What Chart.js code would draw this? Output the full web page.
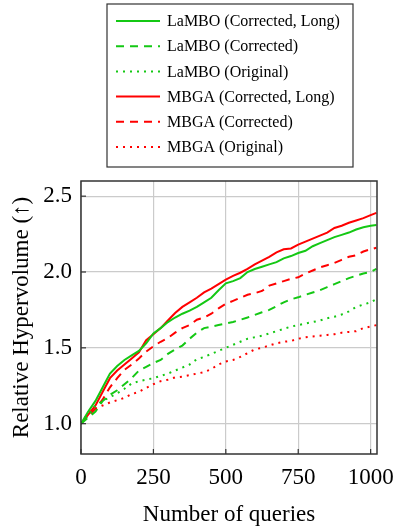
<!DOCTYPE html>
<html>
<head>
<meta charset="utf-8">
<script src="https://cdn.jsdelivr.net/npm/chart.js@4.4.1/dist/chart.umd.min.js"></script>
<style>
  html, body { margin: 0; padding: 0; background: #fff; }
  #wrap { width: 396px; height: 531px; }
</style>
</head>
<body>
<div id="wrap"><canvas id="hvChart" width="396" height="531"></canvas></div>
<script>
// Number of queries (x positions of the samples)
var queries = [0, 25, 50, 75, 100, 125, 150, 175, 200, 225, 250, 275, 300, 325, 350, 375, 400, 425, 450, 475, 500,
    525, 550, 575, 600, 625, 650, 675, 700, 725, 750, 775, 800, 825, 850, 875, 900, 925, 950, 975, 1000, 1020];

// Relative hypervolume, one array per run
var lamboLong = [1.00, 1.08, 1.15, 1.24, 1.33, 1.38, 1.42, 1.45, 1.48, 1.53, 1.595, 1.63, 1.67, 1.70, 1.725, 1.745, 1.77, 1.80, 1.83, 1.88, 1.925,
    1.94, 1.96, 2.00, 2.02, 2.035, 2.05, 2.065, 2.09, 2.105, 2.125, 2.14, 2.17, 2.19, 2.21, 2.23, 2.245, 2.26, 2.28, 2.295, 2.305, 2.31];
var lamboCorrected = [1.00, 1.04, 1.08, 1.15, 1.19, 1.22, 1.26, 1.30, 1.35, 1.375, 1.40, 1.42, 1.46, 1.49, 1.515, 1.56, 1.60, 1.63, 1.64, 1.65, 1.66,
    1.67, 1.685, 1.70, 1.717, 1.735, 1.75, 1.775, 1.80, 1.82, 1.833, 1.85, 1.865, 1.88, 1.90, 1.92, 1.94, 1.96, 1.975, 1.99, 2.00, 2.02];
var lamboOriginal = [1.00, 1.05, 1.12, 1.15, 1.175, 1.20, 1.23, 1.265, 1.28, 1.29, 1.30, 1.315, 1.33, 1.35, 1.37, 1.39, 1.425, 1.44, 1.46, 1.48, 1.50,
    1.52, 1.54, 1.56, 1.57, 1.58, 1.595, 1.61, 1.625, 1.64, 1.65, 1.66, 1.67, 1.68, 1.695, 1.705, 1.72, 1.74, 1.77, 1.785, 1.80, 1.82];
var mbgaLong = [1.00, 1.06, 1.12, 1.21, 1.30, 1.35, 1.39, 1.43, 1.47, 1.55, 1.59, 1.63, 1.68, 1.73, 1.77, 1.80, 1.83, 1.865, 1.89, 1.92, 1.95,
    1.975, 1.995, 2.02, 2.05, 2.075, 2.10, 2.13, 2.15, 2.155, 2.18, 2.20, 2.22, 2.24, 2.26, 2.29, 2.305, 2.325, 2.34, 2.355, 2.375, 2.39];
var mbgaCorrected = [1.00, 1.05, 1.10, 1.16, 1.24, 1.30, 1.355, 1.39, 1.43, 1.475, 1.51, 1.54, 1.565, 1.60, 1.63, 1.65, 1.685, 1.70, 1.725, 1.76, 1.79,
    1.81, 1.83, 1.85, 1.86, 1.875, 1.91, 1.925, 1.94, 1.955, 1.965, 1.99, 2.01, 2.03, 2.045, 2.06, 2.08, 2.10, 2.11, 2.135, 2.15, 2.16];
var mbgaOriginal = [1.00, 1.07, 1.10, 1.12, 1.14, 1.155, 1.17, 1.195, 1.21, 1.235, 1.26, 1.28, 1.29, 1.305, 1.31, 1.32, 1.33, 1.34, 1.36, 1.39, 1.41,
    1.42, 1.44, 1.465, 1.49, 1.50, 1.515, 1.53, 1.54, 1.545, 1.56, 1.57, 1.575, 1.58, 1.585, 1.59, 1.60, 1.605, 1.61, 1.63, 1.64, 1.65];

var xTicks = [0, 250, 500, 750, 1000];
var yTicks = [1.0, 1.5, 2.0, 2.5];

var GREEN = 'rgb(20, 200, 20)';
var RED = 'rgb(255, 0, 0)';
var SERIF = '"Liberation Serif", "Times New Roman", serif';

function toPoints(values) {
    return values.map(function(v, i) {
        return { x: queries[i], y: v };
    });
}

function makeSet(label, values, color, dash) {
    return {
        label: label,
        data: toPoints(values),
        borderColor: color,
        backgroundColor: color,
        borderWidth: 2,
        borderDash: dash,
        pointRadius: 0,
        tension: 0,
        fill: false
    };
}

// Frame plus short inward tick marks, like the pgfplots axis box
var framePlugin = {
    id: 'frame',
    afterDatasetsDraw: function(chart) {
        var ctx = chart.ctx;
        var a = chart.chartArea;
        var xs = chart.scales.x, ys = chart.scales.y;
        ctx.save();
        ctx.strokeStyle = '#333';
        ctx.lineWidth = 1.2;
        xTicks.forEach(function(t) {
            var px = xs.getPixelForValue(t);
            ctx.beginPath();
            ctx.moveTo(px, a.bottom);
            ctx.lineTo(px, a.bottom - 5);
            ctx.stroke();
        });
        yTicks.forEach(function(t) {
            var py = ys.getPixelForValue(t);
            ctx.beginPath();
            ctx.moveTo(a.left, py);
            ctx.lineTo(a.left + 5, py);
            ctx.stroke();
        });
        ctx.lineWidth = 1.5;
        ctx.strokeRect(a.left, a.top, a.right - a.left, a.bottom - a.top);
        ctx.restore();
    }
};

// Boxed legend above the plot
var legendPlugin = {
    id: 'boxLegend',
    afterDraw: function(chart) {
        var ctx = chart.ctx;
        var box = { x: 107, y: 4, w: 246, h: 163 };
        ctx.save();
        ctx.fillStyle = '#fff';
        ctx.fillRect(box.x, box.y, box.w, box.h);
        ctx.strokeStyle = '#333';
        ctx.lineWidth = 1.2;
        ctx.strokeRect(box.x, box.y, box.w, box.h);
        ctx.font = '16px ' + SERIF;
        ctx.textBaseline = 'middle';
        chart.data.datasets.forEach(function(ds, i) {
            var y = 21 + i * 25.2;
            ctx.strokeStyle = ds.borderColor;
            ctx.lineWidth = ds.borderWidth;
            ctx.setLineDash(ds.borderDash || []);
            ctx.beginPath();
            ctx.moveTo(116, y);
            ctx.lineTo(160, y);
            ctx.stroke();
            ctx.setLineDash([]);
            ctx.fillStyle = '#000';
            ctx.fillText(ds.label, 167, y + 1);
        });
        ctx.restore();
    }
};

var ctx = document.getElementById('hvChart').getContext('2d');
var hvChart = new Chart(ctx, {
    type: 'line',
    data: {
        datasets: [
            makeSet('LaMBO (Corrected, Long)', lamboLong, GREEN, []),
            makeSet('LaMBO (Corrected)', lamboCorrected, GREEN, [8, 6]),
            makeSet('LaMBO (Original)', lamboOriginal, GREEN, [2, 5]),
            makeSet('MBGA (Corrected, Long)', mbgaLong, RED, []),
            makeSet('MBGA (Corrected)', mbgaCorrected, RED, [8, 6]),
            makeSet('MBGA (Original)', mbgaOriginal, RED, [2, 5])
        ]
    },
    options: {
        responsive: false,
        animation: false,
        layout: { padding: { top: 181, right: 19, left: 0, bottom: 0 } },
        plugins: {
            legend: { display: false },
            tooltip: { enabled: false }
        },
        scales: {
            x: {
                type: 'linear',
                min: 0,
                max: 1022,
                afterBuildTicks: function(scale) {
                    scale.ticks = xTicks.map(function(v) { return { value: v }; });
                },
                afterFit: function(scale) {
                    scale.height = 77;
                    scale.paddingLeft = 0;
                    scale.paddingRight = 0;
                },
                grid: { color: '#cbcbcb', lineWidth: 1.2, drawTicks: false },
                border: { display: false },
                ticks: {
                    padding: 10,
                    color: '#000',
                    maxRotation: 0,
                    font: { family: SERIF, size: 23 },
                    callback: function(v) { return String(v); }
                },
                title: {
                    display: true,
                    text: 'Number of queries',
                    color: '#000',
                    padding: { top: 0, bottom: 2 },
                    font: { family: SERIF, size: 23 }
                }
            },
            y: {
                min: 0.8,
                max: 2.6,
                afterBuildTicks: function(scale) {
                    scale.ticks = yTicks.map(function(v) { return { value: v }; });
                },
                afterFit: function(scale) {
                    scale.width = 81;
                    scale.paddingTop = 0;
                    scale.paddingBottom = 0;
                },
                grid: { color: '#cbcbcb', lineWidth: 1.2, drawTicks: false },
                border: { display: false },
                ticks: {
                    padding: 9,
                    color: '#000',
                    font: { family: SERIF, size: 23 },
                    callback: function(v) { return v.toFixed(1); }
                },
                title: {
                    display: true,
                    text: 'Relative Hypervolume (\u2191)',
                    color: '#000',
                    padding: { top: 8, bottom: 0 },
                    font: { family: SERIF, size: 23 }
                }
            }
        }
    },
    plugins: [framePlugin, legendPlugin]
});
</script>
</body>
</html>
